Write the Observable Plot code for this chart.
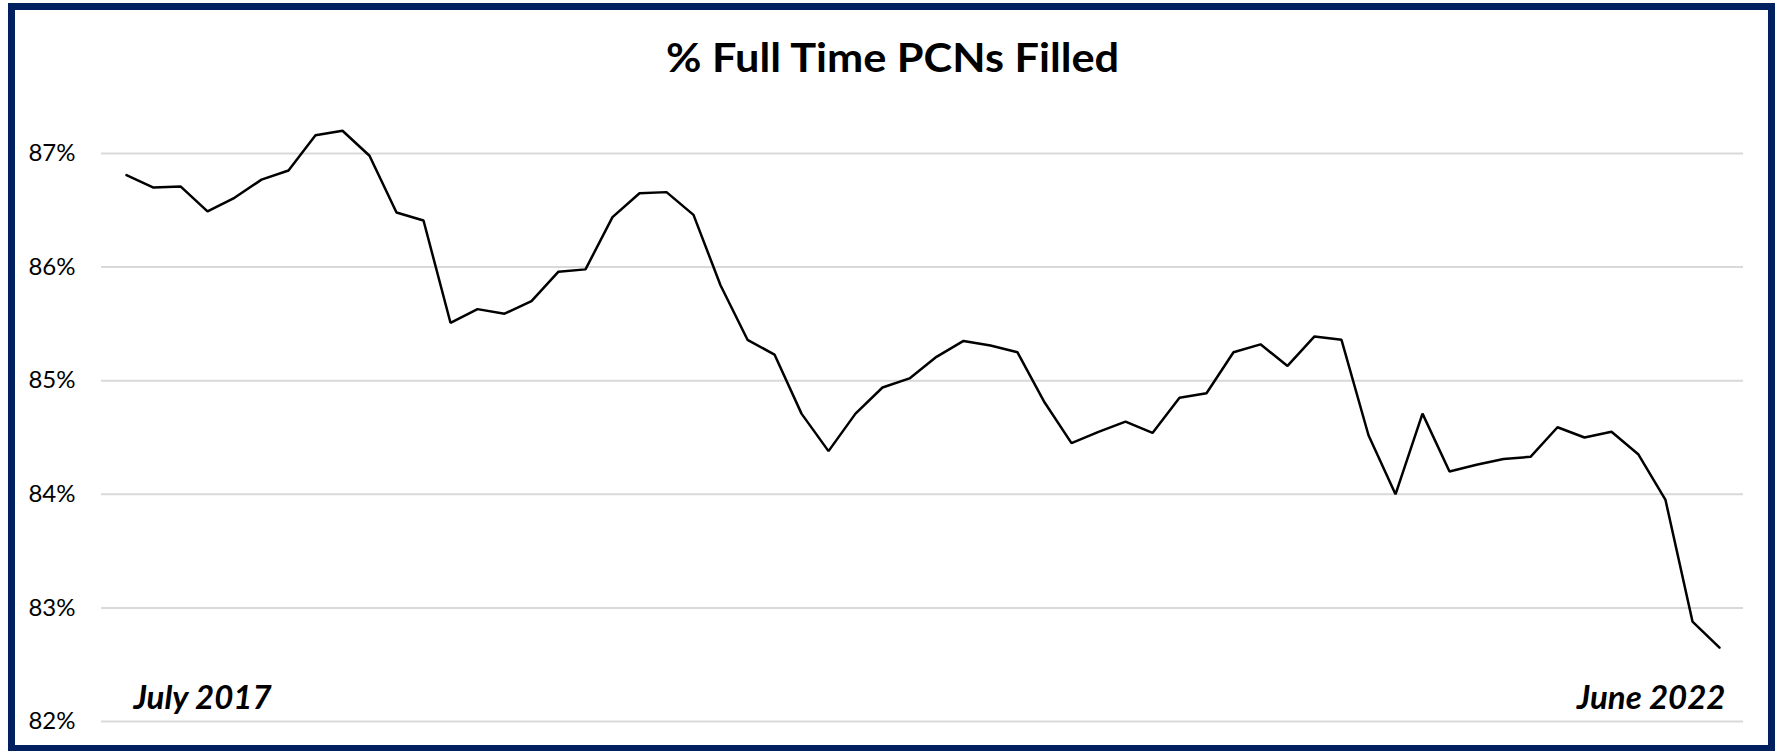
<!DOCTYPE html>
<html><head><meta charset="utf-8">
<script src="https://cdn.jsdelivr.net/npm/d3@7"></script>
<script src="https://cdn.jsdelivr.net/npm/@observablehq/plot@0.6"></script>
<style>
html,body{margin:0;padding:0;background:#fff;overflow:hidden;}
#wrap{position:relative;width:1785px;height:751px;background:#fff;}
#chart{position:absolute;left:0;top:0;}
#frame{position:absolute;left:8px;top:3px;width:1767px;height:749px;border:7.5px solid #002060;box-sizing:border-box;pointer-events:none;}
#title{position:absolute;left:0;top:36px;width:1785px;text-align:center;font-family:Lato,"Open Sans",sans-serif;font-weight:700;font-size:41px;line-height:41px;color:#000;white-space:nowrap;}
#title span{display:inline-block;transform-origin:50% 50%;}
</style></head><body>
<div id="wrap"><div id="chart"></div><div id="title"><span id="titleSpan"></span></div><div id="frame"></div></div>
<script>
const titleText = "% Full Time PCNs Filled";
const months = [
  "Jul 2017","Aug 2017","Sep 2017","Oct 2017","Nov 2017","Dec 2017",
  "Jan 2018","Feb 2018","Mar 2018","Apr 2018","May 2018","Jun 2018",
  "Jul 2018","Aug 2018","Sep 2018","Oct 2018","Nov 2018","Dec 2018",
  "Jan 2019","Feb 2019","Mar 2019","Apr 2019","May 2019","Jun 2019",
  "Jul 2019","Aug 2019","Sep 2019","Oct 2019","Nov 2019","Dec 2019",
  "Jan 2020","Feb 2020","Mar 2020","Apr 2020","May 2020","Jun 2020",
  "Jul 2020","Aug 2020","Sep 2020","Oct 2020","Nov 2020","Dec 2020",
  "Jan 2021","Feb 2021","Mar 2021","Apr 2021","May 2021","Jun 2021",
  "Jul 2021","Aug 2021","Sep 2021","Oct 2021","Nov 2021","Dec 2021",
  "Jan 2022","Feb 2022","Mar 2022","Apr 2022","May 2022","Jun 2022"
];
const pctFilled = [
  86.81, 86.70, 86.71, 86.49, 86.61, 86.77,
  86.85, 87.16, 87.20, 86.98, 86.48, 86.41,
  85.51, 85.63, 85.59, 85.70, 85.96, 85.98,
  86.44, 86.65, 86.66, 86.46, 85.84, 85.36,
  85.23, 84.71, 84.38, 84.71, 84.94, 85.02,
  85.21, 85.35, 85.31, 85.25, 84.81, 84.45,
  84.55, 84.64, 84.54, 84.85, 84.89, 85.25,
  85.32, 85.13, 85.39, 85.36, 84.52, 84.00,
  84.71, 84.20, 84.26, 84.31, 84.33, 84.59,
  84.50, 84.55, 84.35, 83.95, 82.88, 82.65
];
const yTicks = [82, 83, 84, 85, 86, 87];
const startLabel = "July 2017";
const endLabel = "June 2022";

const data = months.map((m, i) => ({month: m, pct: pctFilled[i]}));

const chart = Plot.plot({
  width: 1785,
  height: 751,
  marginLeft: 101,
  marginRight: 42,
  marginTop: 153,
  marginBottom: 30,
  style: {fontFamily: "Lato, 'Open Sans', sans-serif", background: "transparent", color: "#000"},
  x: {type: "point", domain: months, padding: 0.5, axis: null},
  y: {domain: [82, 87], axis: null},
  marks: [
    Plot.ruleY(yTicks, {stroke: "#d9d9d9", strokeWidth: 2}),
    Plot.axisY({ticks: yTicks, tickFormat: d => d + "%", tickSize: 0, tickPadding: 26, fontSize: 24, label: null}),
    Plot.line(data, {x: "month", y: "pct", stroke: "#000", strokeWidth: 2.5, strokeLinejoin: "miter"}),
    Plot.text([startLabel], {x: [months[0]], text: d => d, frameAnchor: "bottom", lineAnchor: "bottom", textAnchor: "start", dx: 7, dy: -13, fontSize: 33, fontWeight: "bold", fontStyle: "italic", fill: "#000"}),
    Plot.text([endLabel], {x: [months[months.length - 1]], text: d => d, frameAnchor: "bottom", lineAnchor: "bottom", textAnchor: "end", dx: 6, dy: -13, fontSize: 33, fontWeight: "bold", fontStyle: "italic", fill: "#000"})
  ]
});
document.getElementById("chart").appendChild(chart);

const span = document.getElementById("titleSpan");
span.textContent = titleText;
const w = span.getBoundingClientRect().width;
if (w > 0) span.style.transform = `scaleX(${453 / w})`;
</script>
</body></html>
